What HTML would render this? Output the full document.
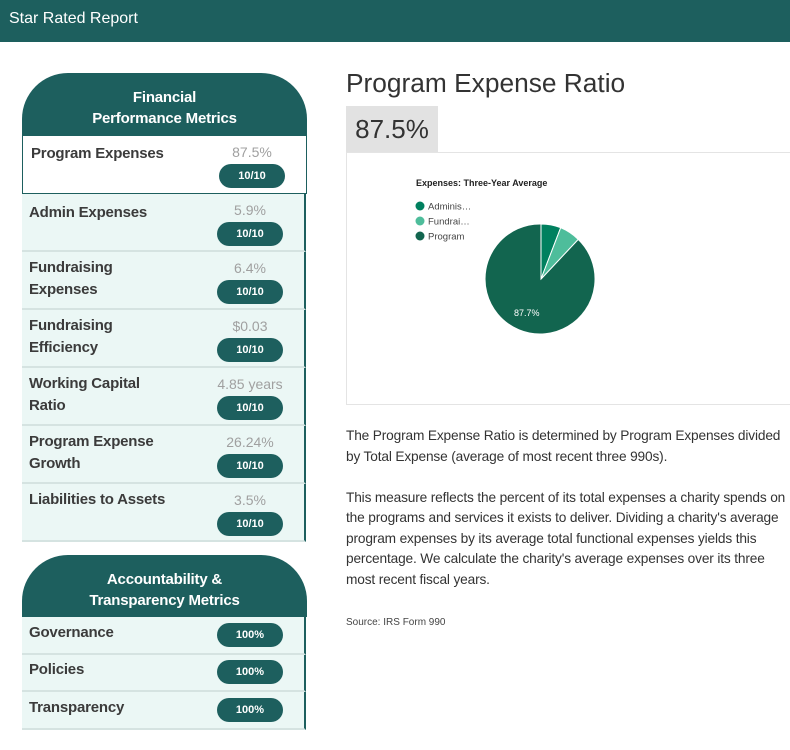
<!DOCTYPE html><html><head><style>
body{margin:0;width:790px;height:750px;background:#fff;font-family:"Liberation Sans",sans-serif;position:relative;overflow:hidden}
.a{position:absolute}
.hdr{left:0;top:0;width:790px;height:42px;background:#1d5f5e;color:#fff;font-size:16px}
.ch{background:#1d5f5e;color:#fff;font-weight:bold;font-size:15px;text-align:center;border-radius:46px 46px 0 0;line-height:21px;box-sizing:border-box;letter-spacing:-0.2px}
.row{left:22px;width:284px;background:#ebf7f5;border-bottom:2px solid #d5e3e1;border-right:2px solid #1d5f5e;box-sizing:border-box}
.lb{position:absolute;left:7px;top:8px;font-size:15px;font-weight:bold;color:#3b3b3b;line-height:22px;letter-spacing:-0.2px}
.v{position:absolute;left:195px;width:66px;text-align:center;top:8px;font-size:14px;color:#a0a0a0;white-space:nowrap}
.p{position:absolute;left:195px;width:66px;height:24px;border-radius:12px;background:#1d5f5e;color:#fff;font-size:11px;font-weight:bold;text-align:center;line-height:24px}
</style></head><body>
<div class="a hdr"><span class="a" style="left:9px;top:10px">Star Rated Report</span></div>
<div class="a ch" style="left:22px;top:73px;width:285px;height:63px;padding-top:14px">Financial<br>Performance Metrics</div>
<div class="a" style="left:22px;top:136px;width:285px;height:58px;border:1px solid #1d5f5e;border-top:none;box-sizing:border-box;background:#fff">
<div class="lb" style="left:8px;top:7px">Program Expenses</div><div class="v" style="left:196px;top:8px">87.5%</div><div class="p" style="left:196px;top:28px">10/10</div></div>
<div class="a row" style="top:194px;height:58px"><div class="lb">Admin Expenses</div><div class="v">5.9%</div><div class="p" style="top:28px">10/10</div></div>
<div class="a row" style="top:252px;height:58px"><div class="lb" style="top:5px">Fundraising<br>Expenses</div><div class="v">6.4%</div><div class="p" style="top:28px">10/10</div></div>
<div class="a row" style="top:310px;height:58px"><div class="lb" style="top:5px">Fundraising<br>Efficiency</div><div class="v">$0.03</div><div class="p" style="top:28px">10/10</div></div>
<div class="a row" style="top:368px;height:58px"><div class="lb" style="top:5px">Working Capital<br>Ratio</div><div class="v">4.85 years</div><div class="p" style="top:28px">10/10</div></div>
<div class="a row" style="top:426px;height:58px"><div class="lb" style="top:5px">Program Expense<br>Growth</div><div class="v">26.24%</div><div class="p" style="top:28px">10/10</div></div>
<div class="a row" style="top:484px;height:58px"><div class="lb" style="top:5px">Liabilities to Assets</div><div class="v">3.5%</div><div class="p" style="top:28px">10/10</div></div>
<div class="a ch" style="left:22px;top:555px;width:285px;height:62px;padding-top:14px">Accountability &amp;<br>Transparency Metrics</div>
<div class="a row" style="top:617px;height:38px"><div class="lb" style="top:5px">Governance</div><div class="p" style="top:6px">100%</div></div>
<div class="a row" style="top:655px;height:37px"><div class="lb" style="top:4px">Policies</div><div class="p" style="top:5px">100%</div></div>
<div class="a row" style="top:692px;height:38px"><div class="lb" style="top:5px">Transparency</div><div class="p" style="top:6px">100%</div></div>

<div class="a" style="left:346px;top:68px;font-size:26.3px;color:#333">Program Expense Ratio</div>
<div class="a" style="left:346px;top:106px;width:92px;height:46px;background:#e2e2e2;font-size:26px;color:#333;line-height:46px;text-align:center">87.5%</div>
<div class="a" style="left:346px;top:152px;width:450px;height:253px;border:1px solid #e4e4e4;box-sizing:border-box"></div>
<svg class="a" style="left:0;top:0" width="790" height="750">
<text x="416" y="186" font-size="9" font-weight="bold" fill="#222" font-family="Liberation Sans">Expenses: Three-Year Average</text>
<circle cx="420" cy="206" r="4.5" fill="#00805f"/><text x="428" y="209.5" font-size="9.5" fill="#444" font-family="Liberation Sans">Adminis…</text>
<circle cx="420" cy="221" r="4.5" fill="#4ebd9b"/><text x="428" y="224.5" font-size="9.5" fill="#444" font-family="Liberation Sans">Fundrai…</text>
<circle cx="420" cy="236" r="4.5" fill="#12654f"/><text x="428" y="239.5" font-size="9.5" fill="#444" font-family="Liberation Sans">Program</text>
<path d="M541 279 L578.2 239.4 A55 55 0 1 1 541 224 Z" fill="#12654f" stroke="#fff" stroke-width="1"/>
<path d="M541 279 L541 224 A55 55 0 0 1 560.7 227.7 Z" fill="#00805f" stroke="#fff" stroke-width="1"/>
<path d="M541 279 L560.7 227.7 A55 55 0 0 1 578.2 239.4 Z" fill="#4ebd9b" stroke="#fff" stroke-width="1"/>
<text x="514" y="316" font-size="9" fill="#fff" font-family="Liberation Sans">87.7%</text>
</svg>
<div class="a" style="left:346px;top:426px;width:450px;font-size:13.7px;letter-spacing:-0.15px;line-height:20.5px;color:#333">The Program Expense Ratio is determined by Program Expenses divided by Total Expense (average of most recent three 990s).<br><br>This measure reflects the percent of its total expenses a charity spends on the programs and services it exists to deliver. Dividing a charity's average program expenses by its average total functional expenses yields this percentage. We calculate the charity's average expenses over its three most recent fiscal years.</div>
<div class="a" style="left:346px;top:617px;font-size:10px;color:#444">Source: IRS Form 990</div>
</body></html>
